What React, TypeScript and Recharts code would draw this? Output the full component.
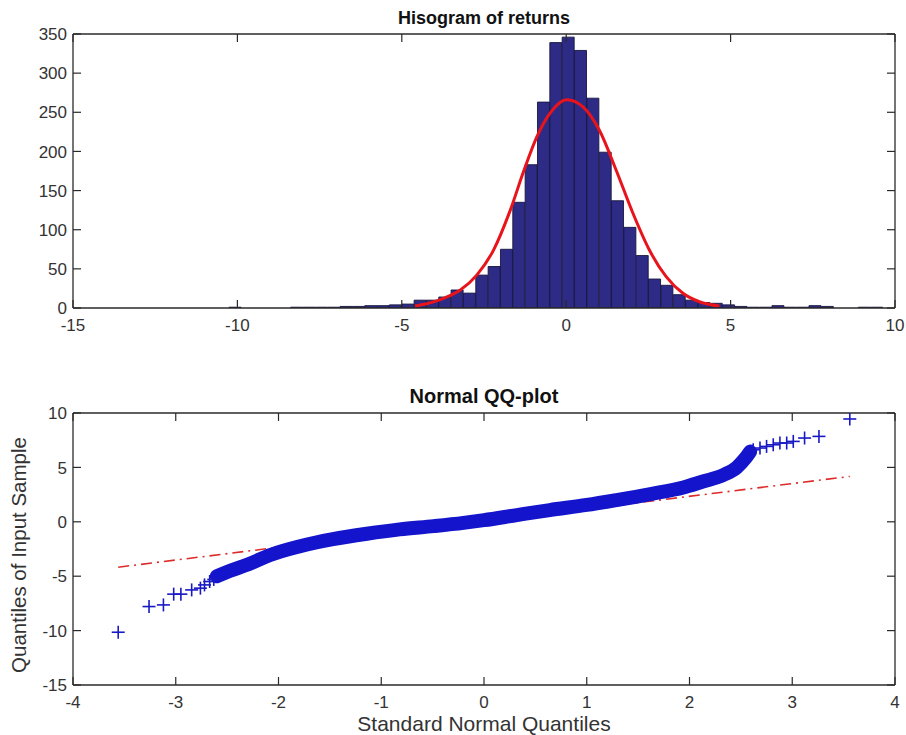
import React from 'react'
import { ComposedChart, Bar, Line, Scatter, XAxis, YAxis } from 'recharts'

// histogram of returns: 53 bins, width 0.375
const binCenters = [
  -10.0625, -9.6875, -9.3125, -8.9375, -8.5625, -8.1875, -7.8125, -7.4375, -7.0625, -6.6875,
  -6.3125, -5.9375, -5.5625, -5.1875, -4.8125, -4.4375, -4.0625, -3.6875, -3.3125, -2.9375,
  -2.5625, -2.1875, -1.8125, -1.4375, -1.0625, -0.6875, -0.3125, 0.0625, 0.4375, 0.8125,
  1.1875, 1.5625, 1.9375, 2.3125, 2.6875, 3.0625, 3.4375, 3.8125, 4.1875, 4.5625,
  4.9375, 5.3125, 5.6875, 6.0625, 6.4375, 6.8125, 7.1875, 7.5625, 7.9375, 8.3125,
  8.6875, 9.0625, 9.4375,
]
const binCounts = [
  1, 0, 0, 0, 0, 1, 1, 1, 1, 2,
  2, 3, 3, 4, 5, 10, 10, 14, 23, 19,
  42, 53, 75, 135, 183, 263, 339, 346, 329, 268,
  199, 137, 103, 67, 37, 29, 17, 10, 7, 6,
  4, 2, 1, 1, 3, 1, 1, 3, 2, 0,
  0, 1, 1,
]

// fitted normal curve
const fitX = [-4.6, -4.44, -3.73, -3.22, -2.72, -2.21, -1.7, -1.3, -0.89, -0.49, 0.02, 0.51, 1.01, 1.52, 2.03, 2.53, 3.04, 3.55, 4.05, 4.66]
const fitY = [2.6, 3.8, 12.4, 23, 42, 74, 125, 174, 219, 249, 266, 257, 227, 176, 121, 74, 40, 18.8, 8, 2.6]

const histTicksX = [-15, -10, -5, 0, 5, 10]
const histTicksY = [0, 50, 100, 150, 200, 250, 300, 350]

// QQ plot: dense middle band
const bandQ = [-2.6, -2.47, -2.28, -2.08, -1.79, -1.47, -1.14, -0.82, -0.49, -0.2, 0, 0.32, 0.64, 1.0, 1.29, 1.62, 1.94, 2.13, 2.33, 2.46, 2.54, 2.59]
const bandY = [-5.0, -4.5, -3.85, -3.05, -2.25, -1.6, -1.1, -0.7, -0.4, -0.1, 0.15, 0.62, 1.08, 1.55, 2.0, 2.55, 3.15, 3.7, 4.3, 5.0, 5.8, 6.45]

// QQ plot: separate tail points
const tailQ = [-3.56, -3.26, -3.12, -3.02, -2.95, -2.845, -2.76, -2.72, -2.67, -2.63, 2.62, 2.686, 2.75, 2.815, 2.88, 2.946, 3.01, 3.12, 3.26, 3.56]
const tailY = [-10.15, -7.79, -7.64, -6.65, -6.65, -6.26, -6.1, -5.8, -5.49, -5.3, 6.62, 6.78, 6.93, 7.08, 7.24, 7.24, 7.39, 7.7, 7.85, 9.45]

const refQ = [-3.56, 3.56]
const refY = [-4.17, 4.17]

const qqTicksX = [-4, -3, -2, -1, 0, 1, 2, 3, 4]
const qqTicksY = [-15, -10, -5, 0, 5, 10]

const histData = binCenters.map((x, i) => ({ x, count: binCounts[i] }))
const fitData = fitX.map((x, i) => ({ x, fit: fitY[i] }))
const bandData = bandQ.map((q, i) => ({ q, v: bandY[i] }))
const tailData = tailQ.map((q, i) => ({ q, v: tailY[i] }))
const refData = refQ.map((q, i) => ({ q, v: refY[i] }))

const FONT = '"Liberation Sans", Arial, Helvetica, sans-serif'
const AXIS = '#2a2a2a'
const TXT = '#333'
const TL = 8

const BottomTick = ({ x, y, payload }: any) => (
  <g>
    <line x1={x} x2={x} y1={y} y2={y - TL} stroke={AXIS} strokeWidth={1.2} />
    <text x={x} y={y + 23} textAnchor="middle" fontSize={17} fill={TXT} fontFamily={FONT}>{payload.value}</text>
  </g>
)
const TopTick = ({ x, y }: any) => (
  <line x1={x} x2={x} y1={y} y2={y + TL} stroke={AXIS} strokeWidth={1.2} />
)
const LeftTick = ({ x, y, payload }: any) => (
  <g>
    <line x1={x} x2={x + TL} y1={y} y2={y} stroke={AXIS} strokeWidth={1.2} />
    <text x={x - 6} y={y} dy="0.36em" textAnchor="end" fontSize={17} fill={TXT} fontFamily={FONT}>{payload.value}</text>
  </g>
)
const RightTick = ({ x, y }: any) => (
  <line x1={x} x2={x - TL} y1={y} y2={y} stroke={AXIS} strokeWidth={1.2} />
)

const Plus = ({ cx, cy }: any) => (
  <g stroke="#1818c4" strokeWidth={1.6}>
    <line x1={cx - 6.5} x2={cx + 6.5} y1={cy} y2={cy} />
    <line x1={cx} x2={cx} y1={cy - 6.5} y2={cy + 6.5} />
  </g>
)

const axisLine = { stroke: AXIS, strokeWidth: 1.3 }

export default function App() {
  return (
    <div style={{ position: 'absolute', left: 0, top: 0, width: 906, height: 735, background: '#fff' }}>
      <div style={{ position: 'absolute', left: 0, top: 0 }}>
        <ComposedChart width={906} height={345} data={histData} barCategoryGap={0} barGap={0} margin={{ top: 33, right: 10, bottom: 0, left: 0 }}>
          {/* bins sit on a band axis padded so that they line up with -10.25 .. 9.625 */}
          <XAxis xAxisId="bins" dataKey="x" type="category" hide padding={{ left: 156, right: 12 }} />
          <XAxis xAxisId="b" dataKey="x" type="number" domain={[-15, 10]} ticks={histTicksX} allowDataOverflow
            height={37} tickSize={0} tickMargin={0} tickLine={false} axisLine={axisLine} tick={<BottomTick />} interval={0} />
          <XAxis xAxisId="t" orientation="top" dataKey="x" type="number" domain={[-15, 10]} ticks={histTicksX} allowDataOverflow
            height={1} tickSize={0} tickMargin={0} tickLine={false} axisLine={axisLine} tick={<TopTick />} interval={0} />
          <YAxis yAxisId="l" type="number" domain={[0, 350]} ticks={histTicksY} allowDataOverflow
            width={73} tickSize={0} tickMargin={0} tickLine={false} axisLine={axisLine} tick={<LeftTick />} interval={0} />
          <YAxis yAxisId="r" orientation="right" type="number" domain={[0, 350]} ticks={histTicksY} allowDataOverflow
            width={1} tickSize={0} tickMargin={0} tickLine={false} axisLine={axisLine} tick={<RightTick />} interval={0} />
          <Bar xAxisId="bins" yAxisId="l" dataKey="count" fill="#2d2b86" stroke="#17163f" strokeWidth={0.9} isAnimationActive={false} />
          <Line xAxisId="b" yAxisId="l" data={fitData} dataKey="fit" type="monotone" stroke="#e8141c" strokeWidth={3} dot={false} activeDot={false} isAnimationActive={false} />
        </ComposedChart>
      </div>
      <div style={{ position: 'absolute', left: 0, top: 379 }}>
        <ComposedChart width={906} height={356} margin={{ top: 33, right: 10, bottom: 0, left: 0 }}>
          <XAxis xAxisId="b" dataKey="q" type="number" domain={[-4, 4]} ticks={qqTicksX} allowDataOverflow
            height={50} tickSize={0} tickMargin={0} tickLine={false} axisLine={axisLine} tick={<BottomTick />} interval={0} />
          <XAxis xAxisId="t" orientation="top" dataKey="q" type="number" domain={[-4, 4]} ticks={qqTicksX} allowDataOverflow
            height={1} tickSize={0} tickMargin={0} tickLine={false} axisLine={axisLine} tick={<TopTick />} interval={0} />
          <YAxis yAxisId="l" dataKey="v" type="number" domain={[-15, 10]} ticks={qqTicksY} allowDataOverflow
            width={73} tickSize={0} tickMargin={0} tickLine={false} axisLine={axisLine} tick={<LeftTick />} interval={0} />
          <YAxis yAxisId="r" orientation="right" dataKey="v" type="number" domain={[-15, 10]} ticks={qqTicksY} allowDataOverflow
            width={1} tickSize={0} tickMargin={0} tickLine={false} axisLine={axisLine} tick={<RightTick />} interval={0} />
          <Line xAxisId="b" yAxisId="l" data={refData} dataKey="v" type="linear" stroke="#dd2a2a" strokeWidth={1.6} strokeDasharray="11 5 2 5" dot={false} activeDot={false} isAnimationActive={false} />
          <Line xAxisId="b" yAxisId="l" data={bandData} dataKey="v" type="monotone" stroke="#1414cc" strokeWidth={14} strokeLinecap="round" dot={false} activeDot={false} isAnimationActive={false} />
          <Scatter xAxisId="b" yAxisId="l" data={tailData} dataKey="v" shape={<Plus />} isAnimationActive={false} />
        </ComposedChart>
      </div>
      <svg width={906} height={735} style={{ position: 'absolute', left: 0, top: 0, pointerEvents: 'none' }} fontFamily={FONT}>
        <text x={484} y={24} textAnchor="middle" fontSize={18} fontWeight="bold" fill="#111">Hisogram of returns</text>
        <text x={484} y={403} textAnchor="middle" fontSize={20} fontWeight="bold" fill="#111">Normal QQ-plot</text>
        <text x={484} y={731} textAnchor="middle" fontSize={21} fill="#333">Standard Normal Quantiles</text>
        <text transform="translate(26,555) rotate(-90)" textAnchor="middle" fontSize={20.5} fill="#333">Quantiles of Input Sample</text>
      </svg>
    </div>
  )
}
